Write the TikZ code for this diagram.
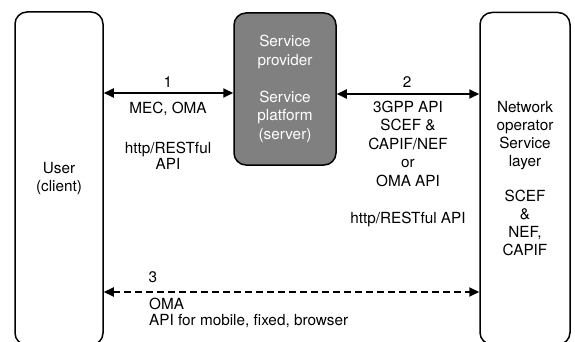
\documentclass[tikz,border=0pt]{standalone}
\usepackage{fontspec}
\setmainfont{TeX Gyre Heros}
\usetikzlibrary{arrows.meta}
\definecolor{boxgray}{HTML}{808080}
\begin{document}
\begin{tikzpicture}[x=1pt,y=-1pt,
  box/.style={draw=black, line width=1.5pt, rounded corners=12pt, align=center, inner sep=0pt, font=\fontsize{15.3}{18.5}\selectfont},
  lbl/.style={align=center, inner sep=0pt, font=\fontsize{15.3}{18.5}\selectfont},
  conn/.style={line width=1.8pt, {Triangle[length=10pt,width=9pt]}-{Triangle[length=10pt,width=9pt]}},
]
\useasboundingbox (0,0) rectangle (575,342);
\node[box, minimum width=88pt, minimum height=333pt] (L) at (59,178.5) {User\\(client)};
\node[box, fill=boxgray, text=white, minimum width=102pt, minimum height=152pt] (M) at (285,89) {Service\\provider\\[18.5pt]Service\\platform\\(server)};
\node[box, minimum width=90pt, minimum height=332pt, font=\fontsize{15.3}{18}\selectfont] (R) at (525,178.5) {Network\\operator\\Service\\layer\\[17pt]SCEF\\\&\\NEF,\\CAPIF};
\coordinate (a1) at ([yshift=-4pt]M.west);
\coordinate (a2) at ([yshift=-5pt]M.east);
\coordinate (a3) at (0,292);
\draw[conn] (L.east |- a1) -- (a1);
\draw[conn] (a2) -- (a2 -| R.west);
\draw[conn, dash pattern=on 7pt off 4pt] (L.east |- a3) -- (R.west |- a3);
\node[lbl] (n1) at (168,82) {1};
\node[lbl, font=\fontsize{15.3}{16.5}\selectfont] (t1) at (168,136) {MEC, OMA\\[23pt]http/RESTful\\API};
\node[lbl] (n2) at (407,82) {2};
\node[lbl] (t2) at (408,164) {3GPP API\\SCEF \&\\CAPIF/NEF\\or\\OMA API\\[19pt]http/RESTful API};
\node[lbl] (n3) at (153,277) {3};
\node[lbl, align=left, anchor=west, font=\fontsize{15.3}{16}\selectfont] (t3) at (149,312.5) {OMA\\API for mobile, fixed, browser};
\end{tikzpicture}
\end{document}
